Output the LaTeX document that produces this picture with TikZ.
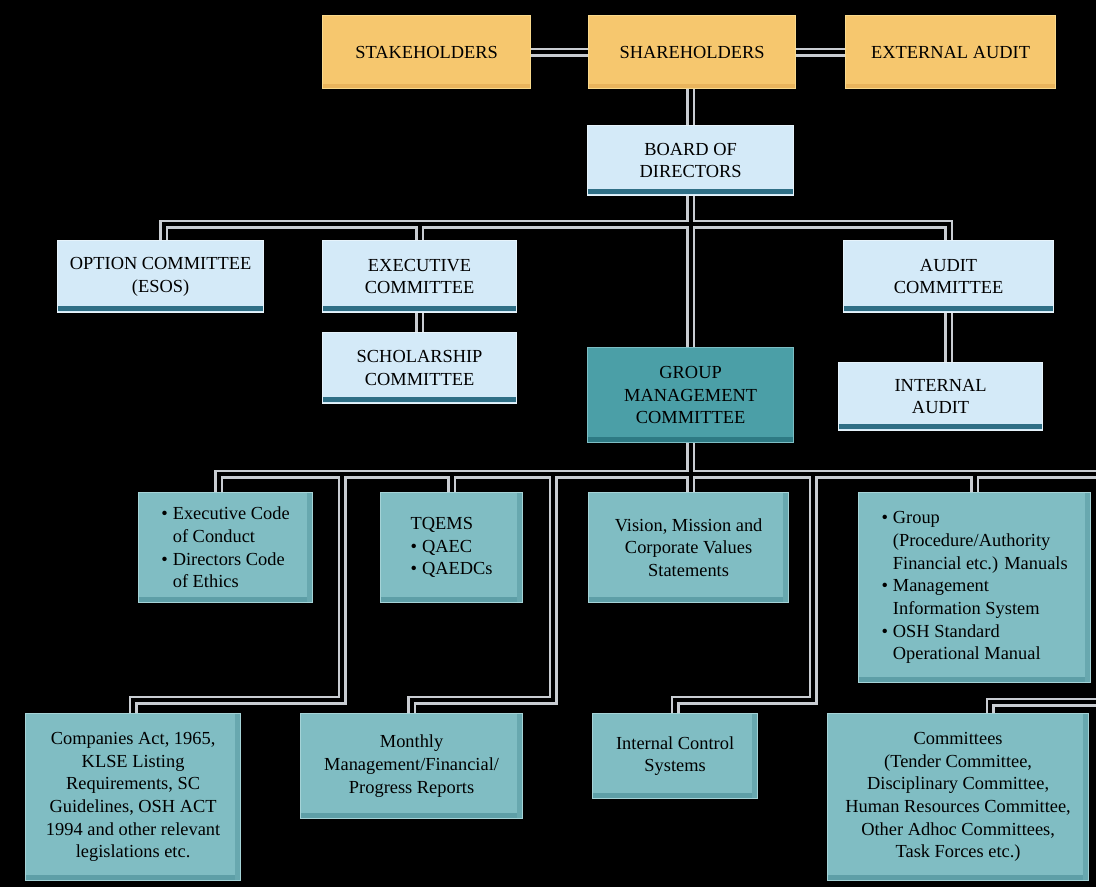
\documentclass[tikz,border=0pt]{standalone}
\usepackage{fontspec}
\setmainfont{Liberation Serif}
\usetikzlibrary{calc}
\definecolor{yelF}{HTML}{F6C76E}
\definecolor{yelE}{HTML}{F9D98C}
\definecolor{yelD}{HTML}{E9B45C}
\definecolor{lbF}{HTML}{D4EAF8}
\definecolor{lbE}{HTML}{E6F3FB}
\definecolor{lbD}{HTML}{2F6F86}
\definecolor{gmF}{HTML}{4B9FA7}
\definecolor{gmE}{HTML}{7DBEC4}
\definecolor{gmD}{HTML}{2E7A84}
\definecolor{tlF}{HTML}{80BDC3}
\definecolor{tlE}{HTML}{A5D3D7}
\definecolor{tlD}{HTML}{5E9FA7}
\definecolor{lineG}{HTML}{C9CDD2}
\newcommand\fs{\fontsize{18.4}{22.7}\selectfont}
\newcommand\bul{\makebox[0.62em][l]{\textbullet}}
\newcommand\hang{\hspace*{0.62em}}
\pgfdeclarelayer{bg}
\pgfsetlayers{bg,main}
\tikzset{
  box/.style={rectangle, inner sep=0pt, anchor=north west, align=center, text=black, font=\fs, line width=1.2pt},
  yel/.style={box, fill=yelF, draw=yelE, path picture={\fill[yelD] ([yshift=5pt]path picture bounding box.south west) rectangle (path picture bounding box.south east);}},
  lb/.style={box, fill=lbF, draw=lbE, path picture={\fill[lbD] ([yshift=7pt]path picture bounding box.south west) rectangle ([yshift=1.5pt]path picture bounding box.south east);}},
  gm/.style={box, fill=gmF, draw=gmE, path picture={\fill[gmD] ([yshift=6pt]path picture bounding box.south west) rectangle (path picture bounding box.south east);}},
  tl/.style={box, fill=tlF, draw=tlE, path picture={\fill[tlD] ([yshift=6pt]path picture bounding box.south west) rectangle (path picture bounding box.south east); \fill[tlD!70!tlF] ([xshift=-6pt]path picture bounding box.north east) rectangle (path picture bounding box.south east);}},
  outerL/.style={draw=lineG, line width=9pt, line join=miter},
  innerL/.style={draw=black, line width=4pt, line join=miter},
}
\newcommand\conns[1]{%
  \draw[#1] (stk.east) -- (sh.west);
  \draw[#1] (sh.east) -- (ext.west);
  \draw[#1] (bod.north |- sh.south) -- (bod.north);
  \draw[#1] (bod.south) -- (gmc.north);
  \draw[#1] ([xshift=3pt]opt.north) |- (barU) -| (auc.north);
  \draw[#1] (exc.north) -- (exc.north |- barU);
  \draw[#1] (exc.south) -- (sch.north);
  \draw[#1] (auc.south) -- (auc.south |- ia.north);
  \draw[#1] (gmc.south) -- (gmc.south |- vis.north);
  \draw[#1] ([xshift=-7pt]ecc.north) |- (farR) -- (farR2) -| ([xshift=32pt]com.north);
  \draw[#1] (tq.north) -- (tq.north |- farR);
  \draw[#1] (grp.north) -- (grp.north |- farR);
  \draw[#1] (jE) -- (kE) -| (law.north);
  \draw[#1] (jF) -- (kF) -| (mon.north);
  \draw[#1] (jG) -- (kG) -| (ics.north);
}
\begin{document}
\begin{tikzpicture}[x=1pt,y=-1pt]
\useasboundingbox (0,0) rectangle (1096,887);
% top row
\node[yel, minimum width=208pt, minimum height=73pt] (stk) at (322,15) {STAKEHOLDERS};
\node[yel, minimum width=207pt, minimum height=73pt] (sh) at (588,15) {SHAREHOLDERS};
\node[yel, minimum width=210pt, minimum height=73pt] (ext) at (845,15) {EXTERNAL AUDIT};
\node[lb, minimum width=206pt, minimum height=70pt] (bod) at (587,125) {BOARD OF\\DIRECTORS};
% committees
\node[lb, minimum width=206pt, minimum height=72pt] (opt) at (57,240) {OPTION COMMITTEE\\(ESOS)};
\node[lb, minimum width=194pt, minimum height=72pt] (exc) at (322,240) {EXECUTIVE\\COMMITTEE};
\node[lb, minimum width=210pt, minimum height=72pt] (auc) at (843,240) {AUDIT\\COMMITTEE};
\node[lb, minimum width=194pt, minimum height=71pt] (sch) at (322,332) {SCHOLARSHIP\\COMMITTEE};
\node[gm, minimum width=206pt, minimum height=95pt] (gmc) at (587,347) {GROUP\\MANAGEMENT\\COMMITTEE};
\node[lb, minimum width=204pt, minimum height=68pt] (ia) at (838,362) {INTERNAL\\AUDIT};
% second row
\node[tl, minimum width=174pt, minimum height=110pt, align=left] (ecc) at (138,492) {\bul Executive Code\\\hang of Conduct\\\bul Directors Code\\\hang of Ethics};
\node[tl, minimum width=142pt, minimum height=110pt, align=left] (tq) at (380,492) {TQEMS\\\bul QAEC\\\bul QAEDCs};
\node[tl, minimum width=200pt, minimum height=110pt] (vis) at (588,492) {Vision, Mission and\\Corporate Values\\Statements};
\node[tl, minimum width=232pt, minimum height=190pt, align=left] (grp) at (858,492) {\bul Group\\\hang(Procedure/Authority\\\hang Financial etc.) Manuals\\\bul Management\\\hang Information System\\\bul OSH Standard\\\hang Operational Manual};
% third row
\node[tl, minimum width=215pt, minimum height=167pt] (law) at (25,713) {Companies Act, 1965,\\KLSE Listing\\Requirements, SC\\Guidelines, OSH ACT\\1994 and other relevant\\legislations etc.};
\node[tl, minimum width=222pt, minimum height=105pt] (mon) at (300,713) {Monthly\\Management/Financial/\\Progress Reports};
\node[tl, minimum width=165pt, minimum height=85pt] (ics) at (592,713) {Internal Control\\Systems};
\node[tl, minimum width=261pt, minimum height=167pt] (com) at (827,713) {Committees\\(Tender Committee,\\Disciplinary Committee,\\Human Resources Committee,\\Other Adhoc Committees,\\Task Forces etc.)};
% junction coordinates
\coordinate (barU) at (690,224);
\coordinate (farR) at (1120,474);
\coordinate (farR2) at (1120,702);
\coordinate (jE) at (342,474);
\coordinate (kE) at (342,700);
\coordinate (jF) at (553,474);
\coordinate (kF) at (553,700);
\coordinate (jG) at (813,474);
\coordinate (kG) at (813,700);
\begin{pgfonlayer}{bg}
\fill[black] (0,0) rectangle (1096,887);
\begin{scope}
\clip (0,0) rectangle (1096,887);
\conns{outerL}
\conns{innerL}
\end{scope}
\end{pgfonlayer}
\end{tikzpicture}
\end{document}
